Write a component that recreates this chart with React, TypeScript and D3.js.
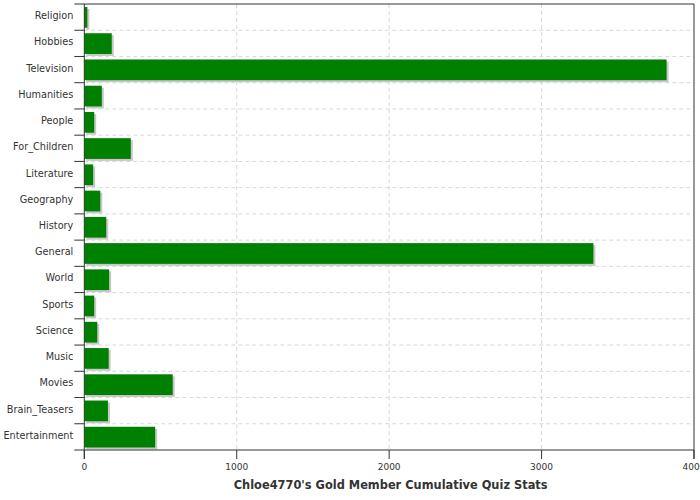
import React from "react";
import * as d3 from "d3";

const categories = [
  "Religion", "Hobbies", "Television", "Humanities", "People", "For_Children",
  "Literature", "Geography", "History", "General", "World", "Sports",
  "Science", "Music", "Movies", "Brain_Teasers", "Entertainment",
];
const values = [20, 180, 3820, 115, 65, 305, 58, 105, 144, 3340, 163, 65, 85, 160, 580, 155, 465];
const xTicks = [0, 1000, 2000, 3000, 4000];
const title = "Chloe4770's Gold Member Cumulative Quiz Stats";

export default function App() {
  const W = 700, H = 500;
  const left = 84.3, right = 694, top = 4, bottom = 450;
  const x = d3.scaleLinear().domain([0, 4000]).range([left, right]);
  const y = d3.scaleBand<string>().domain(categories).range([top, bottom]);
  const bw = y.bandwidth();
  const font = "DejaVu Sans, sans-serif";
  const txt = "#333";
  return (
    <svg width={W} height={H} style={{ position: "absolute", left: 0, top: 0 }} fontFamily={font}>
      <rect width={W} height={H} fill="#fff" />
      {categories.slice(1).map((c) => (
        <line key={"hg" + c} x1={left} x2={right} y1={y(c)!} y2={y(c)!} stroke="#d3d9dc" strokeDasharray="4,3" />
      ))}
      {xTicks.slice(1, -1).map((t) => (
        <line key={"vg" + t} x1={x(t)} x2={x(t)} y1={top} y2={bottom} stroke="#d3d9dc" strokeDasharray="4,3" />
      ))}
      {categories.map((c, i) => {
        const y0 = y(c)! + 3;
        const h = bw - 5.5;
        const w = x(values[i]) - x(0);
        return (
          <g key={"b" + c}>
            <rect x={x(0) + 2} y={y0 + 2} width={w} height={h} fill="#c8c8c8" />
            <rect x={x(0)} y={y0} width={w} height={h} fill="#008000" />
          </g>
        );
      })}
      <line x1={left - 10} x2={right} y1={top} y2={top} stroke="#333" />
      <line x1={right} x2={right} y1={top} y2={bottom + 9} stroke="#333" />
      <line x1={left} x2={left} y1={top} y2={bottom + 9} stroke="#333" />
      <line x1={left - 10} x2={right} y1={bottom} y2={bottom} stroke="#333" />
      {categories.slice(1).map((c) => (
        <line key={"ct" + c} x1={left - 10} x2={left} y1={y(c)!} y2={y(c)!} stroke="#333" />
      ))}
      {categories.map((c) => (
        <text key={"cl" + c} x={left - 11} y={y(c)! + bw / 2 - 1.5} textAnchor="end" dominantBaseline="central" fontSize={9.7} fill={txt}>
          {c}
        </text>
      ))}
      {xTicks.map((t) => (
        <g key={"xt" + t}>
          <line x1={x(t)} x2={x(t)} y1={bottom} y2={bottom + 9} stroke="#333" />
          <text x={x(t)} y={bottom + 17} textAnchor="middle" dominantBaseline="central" fontSize={9} fill={txt}>
            {t}
          </text>
        </g>
      ))}
      <text x={(left + right) / 2 + 1.5} y={485} textAnchor="middle" dominantBaseline="central" fontSize={11.4} fontWeight="bold" fill={txt}>
        {title}
      </text>
    </svg>
  );
}
